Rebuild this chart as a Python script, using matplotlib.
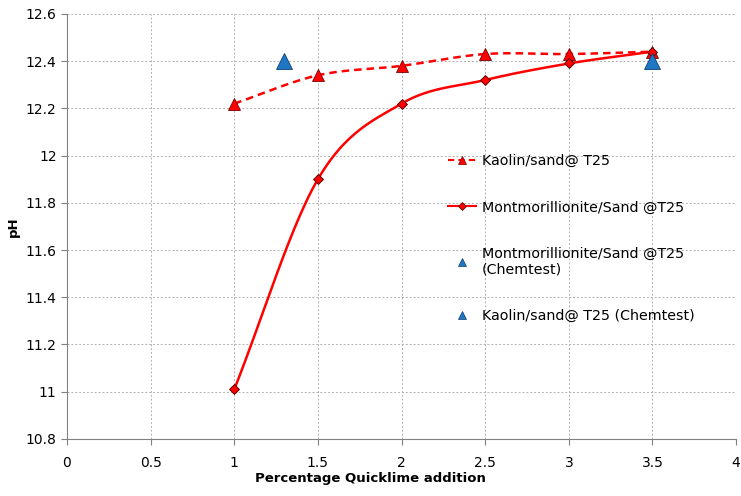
import numpy as np
import matplotlib.pyplot as plt

plt.rcParams['font.family'] = ['DejaVu Sans']

# 数据
quicklime = [1, 1.5, 2, 2.5, 3, 3.5]
kaolin_ph = [12.22, 12.34, 12.38, 12.43, 12.43, 12.44]
mont_ph = [11.01, 11.90, 12.22, 12.32, 12.39, 12.44]

mont_chem_x = [3.5]
mont_chem_ph = [12.40]
kaolin_chem_x = [1.3]
kaolin_chem_ph = [12.40]

x_ticks = [0, 0.5, 1, 1.5, 2, 2.5, 3, 3.5, 4]
y_ticks = [10.8, 11, 11.2, 11.4, 11.6, 11.8, 12, 12.2, 12.4, 12.6]


def smooth(x, y, n=30):
    # Catmull-Rom 平滑曲线（类似 Excel 的平滑线）
    x = np.asarray(x, float)
    y = np.asarray(y, float)
    px = np.concatenate([[2 * x[0] - x[1]], x, [2 * x[-1] - x[-2]]])
    py = np.concatenate([[2 * y[0] - y[1]], y, [2 * y[-1] - y[-2]]])
    xs, ys = [], []
    t = np.linspace(0, 1, n)
    for i in range(1, len(px) - 2):
        for p, out in ((px, xs), (py, ys)):
            p0, p1, p2, p3 = p[i - 1], p[i], p[i + 1], p[i + 2]
            out.extend(0.5 * ((2 * p1) + (-p0 + p2) * t
                              + (2 * p0 - 5 * p1 + 4 * p2 - p3) * t ** 2
                              + (-p0 + 3 * p1 - 3 * p2 + p3) * t ** 3))
    return np.array(xs), np.array(ys)


fig = plt.figure(figsize=(7.41, 4.96), dpi=100)
ax = fig.add_axes([0.0904, 0.115, 0.903, 0.857])

kx, ky = smooth(quicklime, kaolin_ph)
mx, my = smooth(quicklime, mont_ph)

ax.plot(kx, ky, color='red', linestyle='--', linewidth=1.8, dashes=(3, 2))
ax.plot(quicklime, kaolin_ph, linestyle='none', marker='^', markersize=8,
        markerfacecolor='red', markeredgecolor='#7a0000', markeredgewidth=0.6)
ax.plot(mx, my, color='red', linewidth=1.8)
ax.plot(quicklime, mont_ph, linestyle='none', marker='D', markersize=5.5,
        markerfacecolor='red', markeredgecolor='#400000', markeredgewidth=0.6)
ax.plot(mont_chem_x, mont_chem_ph, linestyle='none', marker='^', markersize=11,
        markerfacecolor='#1f77c4', markeredgecolor='#104070', markeredgewidth=0.6)
ax.plot(kaolin_chem_x, kaolin_chem_ph, linestyle='none', marker='^', markersize=11,
        markerfacecolor='#1f77c4', markeredgecolor='#104070', markeredgewidth=0.6)

# 图例句柄
h1, = ax.plot([], [], color='red', linestyle='--', dashes=(3, 2), linewidth=1.5, marker='^',
              markersize=6, markerfacecolor='red', markeredgecolor='#7a0000', markeredgewidth=0.5)
h2, = ax.plot([], [], color='red', linewidth=1.5, marker='D', markersize=4.5,
              markerfacecolor='red', markeredgecolor='#400000', markeredgewidth=0.5)
h3, = ax.plot([], [], linestyle='none', marker='^', markersize=6,
              markerfacecolor='#1f77c4', markeredgecolor='#104070', markeredgewidth=0.5)
h4, = ax.plot([], [], linestyle='none', marker='^', markersize=6,
              markerfacecolor='#1f77c4', markeredgecolor='#104070', markeredgewidth=0.5)
ax.legend([h1, h2, h3, h4],
          ['Kaolin/sand@ T25', 'Montmorillionite/Sand @T25',
           'Montmorillionite/Sand @T25\n(Chemtest)', 'Kaolin/sand@ T25 (Chemtest)'],
          frameon=False, fontsize=10.3, labelspacing=2.25, handlelength=2.0,
          handletextpad=0.4, loc='upper left', bbox_to_anchor=(0.55, 0.70))

ax.set_xlim(0, 4)
ax.set_ylim(10.8, 12.6)
ax.set_xticks(x_ticks)
ax.set_xticklabels(['0', '0.5', '1', '1.5', '2', '2.5', '3', '3.5', '4'])
ax.set_yticks(y_ticks)
ax.set_yticklabels(['10.8', '11', '11.2', '11.4', '11.6', '11.8', '12', '12.2', '12.4', '12.6'])
ax.grid(True, color='#b0b0b0', linestyle=(0, (2, 2)), linewidth=0.7)
ax.set_axisbelow(True)
for s in ('top', 'right'):
    ax.spines[s].set_visible(False)
for s in ('left', 'bottom'):
    ax.spines[s].set_color('#808080')
ax.tick_params(colors='#808080', labelcolor='black', labelsize=10, length=4)
ax.tick_params(axis='x', pad=8)
ax.set_xlabel('Percentage Quicklime addition', fontweight='bold', fontsize=9.5, labelpad=2)
ax.xaxis.label.set_x(0.453)
ax.set_ylabel('pH', fontweight='bold', fontsize=9.5, labelpad=4)

fig.savefig('out.png', dpi=100)
